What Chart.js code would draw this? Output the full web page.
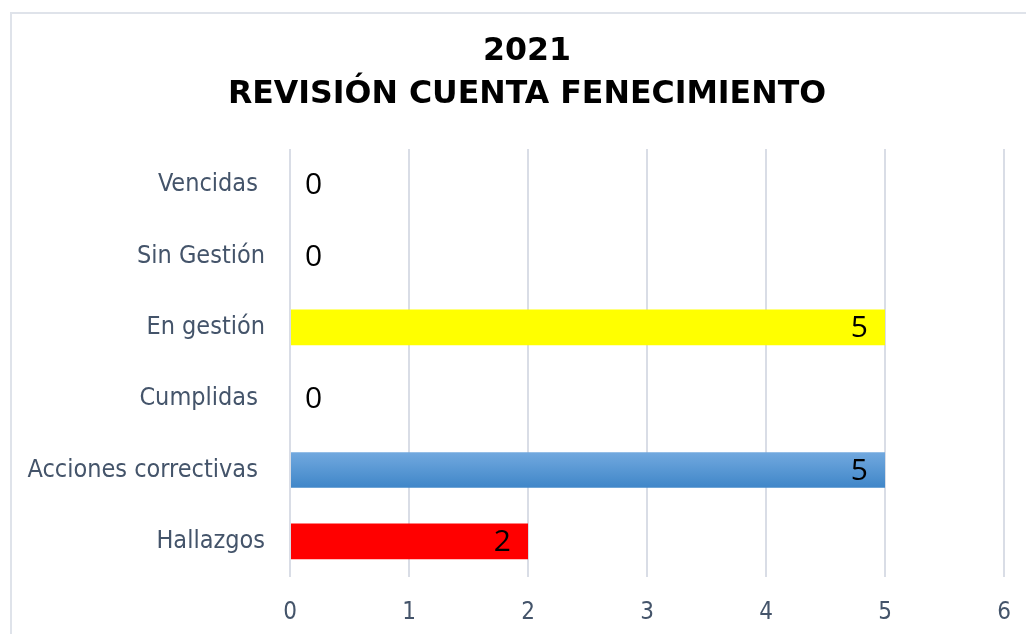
<!DOCTYPE html>
<html>
<head>
<meta charset="utf-8">
<script src="https://cdn.jsdelivr.net/npm/chart.js@4/dist/chart.umd.min.js"></script>
<style>
  html, body { margin: 0; padding: 0; background: #fff; overflow: hidden; }
  #marco { position: absolute; left: 10px; top: 12px; width: 1100px; height: 700px; border: 2px solid #dfe3ea; }
  #grafico { position: absolute; left: 0; top: 0; }
</style>
</head>
<body>
<div id="marco"></div>
<canvas id="grafico" width="1026" height="634"></canvas>
<script>
// Datos del gráfico
const titulo = ["2021", "REVISIÓN CUENTA FENECIMIENTO"];
const categorias = ["Vencidas ", "Sin Gestión", "En gestión", "Cumplidas ", "Acciones correctivas ", "Hallazgos"];
const valores = [0, 0, 5, 0, 5, 2];
const ticksX = [0, 1, 2, 3, 4, 5, 6];

// Colores de cada barra (la de acciones correctivas lleva degradado)
const colores = ["#ffff00", "#ffff00", "#ffff00", "#ffff00", "degradado", "#ff0000"];

function colorBarra(context) {
    const c = colores[context.dataIndex];
    if (c !== "degradado") return c;
    const escalaY = context.chart.scales.y;
    if (!escalaY || escalaY.top === undefined) return "#5b9bd5";
    const py = escalaY.getPixelForValue(context.dataIndex);
    const g = context.chart.ctx.createLinearGradient(0, py - 18, 0, py + 18);
    g.addColorStop(0, "#72a9df");
    g.addColorStop(1, "#3f86c8");
    return g;
}

// Título en dos líneas, centrado sobre el recuadro
const tituloGrafico = {
    id: "tituloGrafico",
    afterDraw(chart) {
        const ctx = chart.ctx;
        ctx.save();
        ctx.font = "bold 31.6px 'DejaVu Sans', sans-serif";
        ctx.fillStyle = "#000";
        ctx.textAlign = "center";
        ctx.textBaseline = "middle";
        titulo.forEach((linea, i) => {
            ctx.fillText(linea, 527, 52 + i * 43);
        });
        ctx.restore();
    }
};

// Etiquetas de valor sobre las barras
const etiquetasValor = {
    id: "etiquetasValor",
    afterDatasetsDraw(chart) {
        const ctx = chart.ctx;
        const meta = chart.getDatasetMeta(0);
        ctx.save();
        ctx.font = "30px 'Open Sans', 'Liberation Sans', sans-serif";
        ctx.fillStyle = "#000";
        ctx.textBaseline = "middle";
        meta.data.forEach((barra, i) => {
            const v = valores[i];
            if (v > 0) {
                ctx.textAlign = "right";
                ctx.fillText(String(v), barra.x - 17, barra.y + 1);
            } else {
                ctx.textAlign = "left";
                ctx.fillText(String(v), barra.x + 15, barra.y + 1);
            }
        });
        ctx.restore();
    }
};

var ctxGrafico = document.getElementById("grafico").getContext("2d");

new Chart(ctxGrafico, {
    type: "bar",
    data: {
        labels: categorias,
        datasets: [
            {
                data: valores,
                backgroundColor: colorBarra,
                borderWidth: 0,
                barPercentage: 0.5,
                categoryPercentage: 1,
            },
        ],
    },
    options: {
        indexAxis: "y",
        responsive: false,
        animation: false,
        layout: {
            padding: { left: 0, right: 22, top: 149, bottom: 0 },
        },
        plugins: {
            legend: { display: false },
            tooltip: { enabled: false },
            title: { display: false },
        },
        scales: {
            x: {
                min: 0,
                max: 6,
                afterBuildTicks: (scale) => {
                    scale.ticks = ticksX.map((v) => ({ value: v }));
                },
                afterFit: (scale) => {
                    scale.height = 57;
                    scale.paddingLeft = 0;
                    scale.paddingRight = 0;
                },
                grid: {
                    color: "#d9dde6",
                    lineWidth: 2,
                    drawTicks: false,
                },
                border: { display: false },
                ticks: {
                    color: "#44546a",
                    padding: 21,
                    font: { family: "'DejaVu Sans Condensed', 'DejaVu Sans', sans-serif", size: 24 },
                },
            },
            y: {
                afterFit: (scale) => {
                    scale.width = 290;
                },
                grid: { display: false, drawTicks: false },
                border: { display: false },
                ticks: {
                    color: "#44546a",
                    padding: 25,
                    font: { family: "'DejaVu Sans Condensed', 'DejaVu Sans', sans-serif", size: 25 },
                },
            },
        },
    },
    plugins: [etiquetasValor, tituloGrafico],
});
</script>
</body>
</html>
